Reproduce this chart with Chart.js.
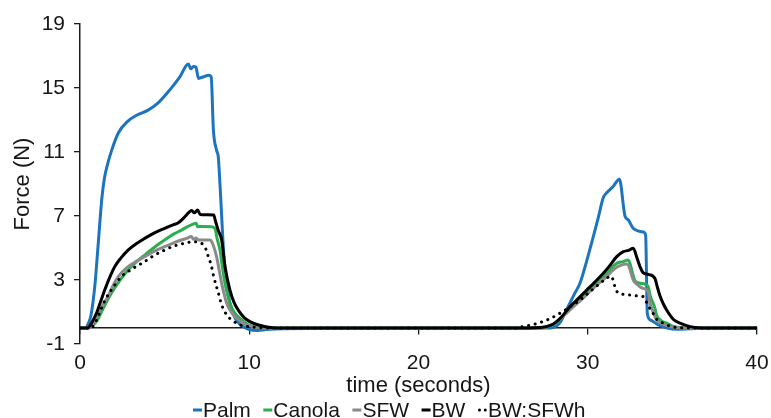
<!DOCTYPE html>
<html><head><meta charset="utf-8">
<script src="https://cdn.jsdelivr.net/npm/chart.js@4.4.1/dist/chart.umd.min.js"></script>
<style>html,body{margin:0;padding:0;background:#fff}#wrap{width:771px;height:418px;position:relative}</style>
</head><body><div id="wrap"><canvas id="c" width="771" height="418"></canvas></div>
<script>
// ---- data: [time (s), force (N)] ----
const seriesNames = ['Palm', 'Canola', 'SFW', 'BW', 'BW:SFWh'];
const palm = [[0,0],[0.3,0],[0.5,0.3],[0.65,0.8],[0.8,1.9],[0.9,2.9],[1.05,4.9],[1.18,6.7],[1.3,8.2],[1.45,9.4],[1.62,10.2],[1.87,11.1],[2.27,12.2],[2.8,12.9],[3.35,13.3],[4.0,13.6],[4.6,14.05],[5.32,14.9],[5.9,15.7],[6.4,16.5],[6.55,16.2],[6.7,16.35],[6.85,16.3],[7.0,15.6],[7.3,15.7],[7.6,15.8],[7.75,15.7],[7.88,12.4],[8.07,11.1],[8.17,10.7],[8.27,9.0],[8.37,7.0],[8.5,4.5],[8.67,2.8],[8.85,1.6],[9.05,0.9],[9.3,0.4],[9.65,0.1],[10.0,-0.1],[10.5,-0.15],[11.0,-0.1],[12.0,-0.05],[20,0],[27.5,0],[28.0,0.05],[28.4,0.4],[28.75,1.15],[29.2,2.1],[29.54,2.8],[29.94,4.2],[30.3,5.6],[30.6,6.8],[30.92,8.15],[31.12,8.45],[31.5,8.85],[31.87,9.3],[32.2,7.0],[32.4,6.75],[32.69,6.23],[33.28,6.0],[33.42,5.8],[33.52,0.9],[33.7,0.5],[34.17,0.19],[34.7,0.0],[35.25,-0.08],[36.0,-0.05],[37.0,0],[40,0]];
const canola = [[0,0],[0.5,0],[0.75,0.15],[1.06,0.55],[1.4,1.3],[1.85,2.17],[2.3,2.9],[2.84,3.63],[3.3,4.1],[3.82,4.56],[4.4,5.05],[5.0,5.5],[5.5,5.85],[5.99,6.12],[6.3,6.3],[6.58,6.44],[6.87,6.54],[6.95,6.33],[7.3,6.35],[7.76,6.33],[7.98,6.2],[8.1,5.6],[8.27,4.87],[8.4,3.9],[8.57,2.79],[8.74,2.0],[8.86,1.54],[9.1,1.0],[9.45,0.6],[9.8,0.3],[10.2,0.1],[10.8,0.02],[11.5,0],[20,0],[27.0,0],[27.5,0.05],[28.0,0.25],[28.5,0.7],[29.0,1.2],[29.5,1.7],[30.0,2.25],[30.5,2.75],[31.0,3.25],[31.4,3.75],[31.71,4.04],[32.1,4.15],[32.4,4.25],[32.69,3.25],[32.79,2.95],[33.1,2.8],[33.48,2.7],[33.58,2.55],[33.68,2.06],[33.97,1.23],[34.07,0.8],[34.35,0.45],[34.66,0.3],[35.05,0.1],[35.5,0.03],[36.0,0],[40,0]];
const sfw = [[0,0],[0.5,0],[0.75,0.2],[1.0,0.7],[1.3,1.35],[1.65,1.96],[2.0,2.75],[2.25,3.2],[2.8,3.8],[3.3,4.15],[3.82,4.46],[4.4,4.8],[5.0,5.08],[5.5,5.3],[5.99,5.5],[6.3,5.6],[6.58,5.72],[6.7,5.55],[6.85,5.62],[7.0,5.5],[7.66,5.5],[7.78,5.4],[8.07,4.46],[8.15,4.04],[8.37,2.79],[8.5,2.2],[8.67,1.54],[8.9,1.05],[9.16,0.7],[9.5,0.4],[9.85,0.2],[10.5,0.05],[11,0],[20,0],[27,0],[27.5,0.05],[28,0.25],[28.5,0.7],[29,1.2],[29.5,1.65],[30,2.15],[30.5,2.65],[31,3.1],[31.51,3.63],[31.8,3.85],[32.3,4.0],[32.4,3.94],[32.69,3.0],[32.89,2.75],[33.2,2.5],[33.58,2.25],[33.68,1.56],[33.87,1.0],[34.07,0.5],[34.4,0.25],[34.8,0.1],[35.3,0.02],[36,0],[40,0]];
const bw = [[0,0],[0.45,0],[0.7,0.35],[0.97,0.92],[1.2,1.6],[1.46,2.37],[1.75,3.15],[2.05,3.83],[2.4,4.35],[2.84,4.87],[3.3,5.25],[3.82,5.6],[4.4,5.95],[5.0,6.23],[5.5,6.45],[5.79,6.56],[6.1,6.85],[6.48,7.27],[6.6,7.35],[6.75,7.2],[6.95,7.37],[7.1,7.1],[7.5,7.08],[7.9,7.06],[8.0,6.7],[8.17,6.1],[8.37,5.5],[8.57,3.83],[8.86,2.37],[9.1,1.6],[9.35,1.12],[9.7,0.65],[10.04,0.4],[10.5,0.2],[10.9,0.1],[11.7,0],[20,0],[26.5,0],[27.2,0.03],[27.6,0.1],[27.97,0.25],[28.5,0.75],[28.95,1.33],[29.45,1.85],[29.94,2.37],[30.4,2.85],[30.92,3.42],[31.3,3.9],[31.71,4.46],[32.1,4.77],[32.4,4.85],[32.69,4.98],[32.9,4.4],[33.09,3.83],[33.28,3.45],[33.58,3.35],[33.97,3.1],[34.1,2.6],[34.27,2.0],[34.47,1.5],[34.66,1.12],[35.05,0.55],[35.45,0.3],[36,0.1],[36.5,0.02],[37,0],[40,0]];
const bwSfwh = [[0,0],[0.5,0],[0.8,0.15],[1.18,1.0],[1.46,1.7],[1.9,2.45],[2.44,3.2],[3.1,3.7],[3.82,4.15],[4.4,4.55],[5.0,4.87],[5.5,5.1],[5.99,5.25],[6.4,5.35],[6.68,5.4],[7.0,5.35],[7.29,5.2],[7.45,4.9],[7.58,4.46],[7.76,3.9],[7.88,3.3],[8.17,2.2],[8.37,1.45],[8.56,1.0],[8.76,0.7],[9.1,0.4],[9.45,0.19],[10,0.08],[10.6,0.03],[11.5,0],[20,0],[25.8,0],[26.2,0.1],[26.7,0.2],[27.2,0.35],[27.8,0.6],[28.4,0.95],[29.0,1.35],[29.54,1.75],[30.0,2.15],[30.33,2.45],[30.8,2.85],[31.12,3.1],[31.35,3.25],[31.5,3.0],[31.6,2.6],[31.71,2.3],[31.9,2.15],[32.1,2.1],[32.5,2.06],[33.0,2.0],[33.28,1.96],[33.48,1.6],[33.68,1.2],[33.87,0.9],[34.07,0.55],[34.47,0.3],[34.9,0.1],[35.3,0.03],[36,0],[40,0]];
const xTicks = [0, 10, 20, 30, 40];
const yTicks = [-1, 3, 7, 11, 15, 19];
const xTitle = 'time (seconds)';
const yTitle = 'Force (N)';

// ---- styles ----
const FONT = '"Liberation Sans", Arial, sans-serif';
const TEXT = '#161616';
const colors = ['#1C74BF', '#2AAE4E', '#8A8A8A', '#000000', '#000000'];
const allSeries = [palm, canola, sfw, bw, bwSfwh];

const datasets = allSeries.map((s, i) => ({
  label: seriesNames[i],
  data: s.map(p => ({x: p[0], y: p[1]})),
  borderColor: colors[i],
  backgroundColor: colors[i],
  borderWidth: 3,
  borderDash: i === 4 ? [0.1, 6.6] : [],
  borderCapStyle: i === 4 ? 'round' : 'butt',
  borderJoinStyle: 'round',
  pointRadius: 0,
  fill: false,
  tension: 0.4,
  cubicInterpolationMode: 'monotone',
  order: 5 - i
}));

const legendPlugin = {
  id: 'bottomLegend',
  afterDraw(chart) {
    const ctx = chart.ctx;
    ctx.save();
    ctx.font = '21px ' + FONT;
    ctx.textBaseline = 'alphabetic';
    let x = 193;
    const base = 417, mid = 410;
    chart.data.datasets.forEach(ds => {
      ctx.fillStyle = ds.borderColor;
      if (ds.borderDash && ds.borderDash.length) {
        [1.6, 7.4].forEach(dx => { ctx.beginPath(); ctx.arc(x + dx, mid, 1.5, 0, Math.PI * 2); ctx.fill(); });
      } else {
        ctx.fillRect(x, mid - 1.5, 9, 3);
      }
      x += 10;
      ctx.fillStyle = TEXT;
      ctx.fillText(ds.label, x, base);
      x += ctx.measureText(ds.label).width + 12.5;
    });
    ctx.restore();
  }
};

new Chart(document.getElementById('c'), {
  type: 'line',
  data: {datasets},
  plugins: [legendPlugin],
  options: {
    responsive: false,
    animation: false,
    layout: {padding: {left: 0, right: 14, top: 24, bottom: 20}},
    plugins: {legend: {display: false}, tooltip: {enabled: false}},
    scales: {
      x: {
        type: 'linear', min: 0, max: 40, position: 'bottom',
        afterBuildTicks: s => { s.ticks = xTicks.map(v => ({value: v})); },
        grid: {display: false}, border: {display: false},
        ticks: {font: {family: FONT, size: 21, lineHeight: 1}, color: TEXT, padding: 1, maxRotation: 0, autoSkip: false},
        title: {display: true, text: xTitle, color: TEXT, font: {family: FONT, size: 22, lineHeight: 1.1}, padding: {top: 0, bottom: 0}},
        afterFit: s => { s.height = 54; }
      },
      x0: {
        type: 'linear', axis: 'x', min: 0, max: 40, position: {y: 0},
        afterBuildTicks: s => { s.ticks = xTicks.map(v => ({value: v})); },
        ticks: {display: false},
        grid: {drawOnChartArea: false, drawTicks: true, tickLength: 6, color: '#1a1a1a', lineWidth: 1.3},
        border: {display: true, color: '#1a1a1a', width: 1.5}
      },
      y: {
        type: 'linear', min: -1, max: 19,
        afterBuildTicks: s => { s.ticks = yTicks.map(v => ({value: v})); },
        grid: {drawOnChartArea: false, drawTicks: true, tickLength: 6, color: '#1a1a1a', lineWidth: 1.3},
        border: {display: true, color: '#1a1a1a', width: 1.5},
        ticks: {font: {family: FONT, size: 21}, color: TEXT, padding: 9, autoSkip: false},
        title: {display: true, text: yTitle, color: TEXT, font: {family: FONT, size: 22}, padding: {top: 10, bottom: 0}},
        afterFit: s => { s.width = 80; }
      }
    }
  }
});
</script>
</body></html>
